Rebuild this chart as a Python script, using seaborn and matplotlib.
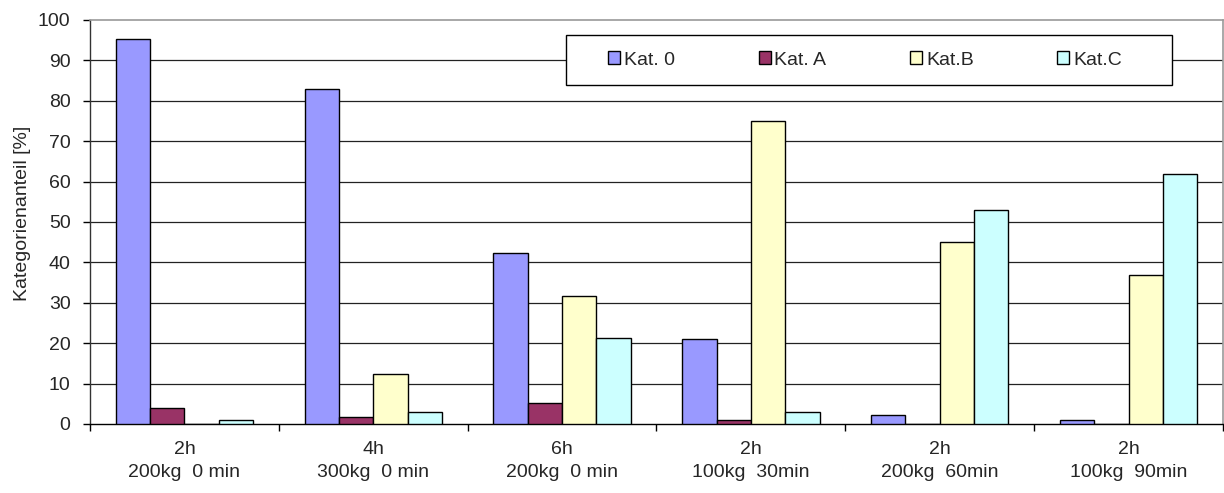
import matplotlib
matplotlib.use("Agg")
import matplotlib.pyplot as plt
from matplotlib.patches import Rectangle
import seaborn as sns
import pandas as pd
import numpy as np

groups = ["2h\n200kg  0 min", "4h\n300kg  0 min", "6h\n200kg  0 min",
          "2h\n100kg  30min", "2h\n200kg  60min", "2h\n100kg  90min"]
series = ["Kat. 0", "Kat. A", "Kat.B", "Kat.C"]
kat0 = [95.2, 83.0, 42.3, 21.1, 2.2, 1.0]
katA = [4.0, 1.8, 5.2, 1.0, 0.0, 0.0]
katB = [0.0, 12.3, 31.6, 75.0, 45.0, 37.0]
katC = [1.0, 2.9, 21.2, 2.9, 53.0, 62.0]
colors = ["#9999ff", "#993366", "#ffffcc", "#ccffff"]

rows = []
for name, vals in zip(series, [kat0, katA, katB, katC]):
    for g, v in zip(groups, vals):
        rows.append({"group": g, "series": name, "value": v})
df = pd.DataFrame(rows)

sns.set_style("white")
plt.rcParams["font.family"] = ["Liberation Sans", "DejaVu Sans"]

W, H = 1224, 493
fig = plt.figure(figsize=(W / 100, H / 100), dpi=100)
ax = fig.add_axes([90 / W, 1 - 424 / H, 1133 / W, 404 / H])

sns.barplot(data=df, x="group", y="value", hue="series", palette=colors,
            order=groups, hue_order=series, width=4 / 5.5, ax=ax,
            edgecolor="black", linewidth=1.0, saturation=1, zorder=3)

ax.set_ylim(0, 100)
ax.set_xlim(-0.5, 5.5)
ax.set_yticks(np.arange(0, 101, 10))
for y in range(10, 100, 10):
    ax.axhline(y, color="#222222", lw=0.9, zorder=1)

for s in ["top", "right"]:
    ax.spines[s].set_visible(True)
    ax.spines[s].set_color("#999999")
    ax.spines[s].set_linewidth(1.2)
ax.spines["left"].set_color("#333333")
ax.spines["bottom"].set_color("black")
ax.spines["left"].set_linewidth(1.0)
ax.spines["bottom"].set_linewidth(1.0)

ax.set_xlabel("")
ax.set_ylabel("Kategorienanteil [%]", fontsize=14, labelpad=3)
ax.yaxis.set_label_coords(-0.052, 0.521)
ax.tick_params(axis="y", which="major", direction="out", length=5, width=1,
               color="black", labelsize=14, pad=9, left=True)
ax.set_xticks(np.arange(-0.5, 6.0, 1.0), minor=True)
ax.set_xticks(np.arange(6))
ax.set_xticklabels(groups, fontsize=14, linespacing=1.45)
ax.tick_params(axis="x", which="major", length=0, pad=12)
ax.tick_params(axis="x", which="minor", direction="out", length=5, width=1,
               color="black", bottom=True)

# legend box
bx0, by0, bx1, by1 = 566, 35, 1172, 85
ax.add_patch(Rectangle(((bx0 - 90) / 1133, (424 - by1) / 404),
                       (bx1 - bx0) / 1133, (by1 - by0) / 404,
                       transform=ax.transAxes, facecolor="white",
                       edgecolor="black", lw=1.0, zorder=4, clip_on=False))
leg = ax.legend(loc="center", ncol=4,
                bbox_to_anchor=(((bx0 + bx1) / 2 - 4 - 90) / 1133, (424 - (by0 + by1) / 2) / 404),
                frameon=False, fontsize=14, handlelength=0.62, handleheight=0.62,
                handletextpad=0.2, columnspacing=4.3, borderaxespad=0, borderpad=0)
leg.set_zorder(5)
for h in leg.legend_handles:
    h.set_edgecolor("black")
    h.set_linewidth(1.0)

fig.savefig("out.png", dpi=100)
